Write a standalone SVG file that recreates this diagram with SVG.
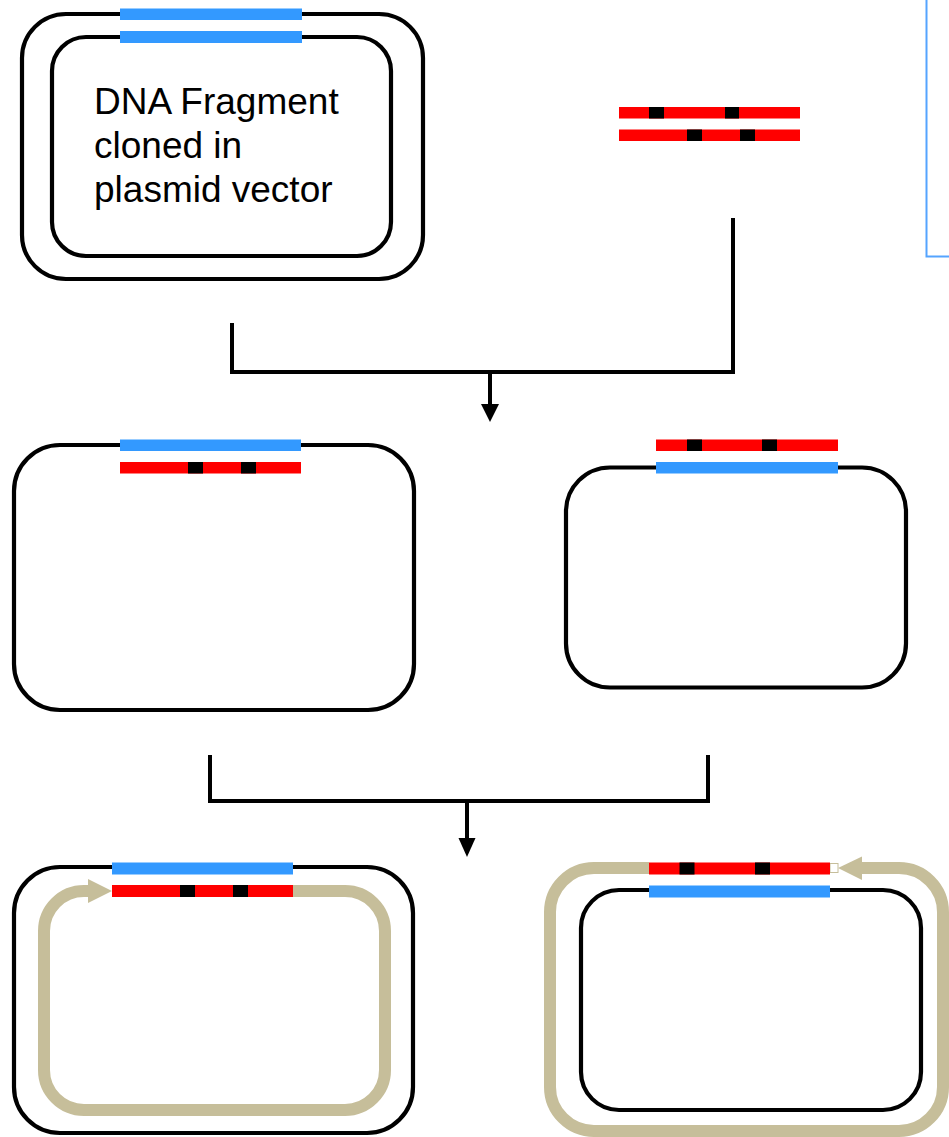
<svg xmlns="http://www.w3.org/2000/svg" width="949" height="1137" viewBox="0 0 949 1137">
  <style>
    .plasmid { fill: none; stroke: #000; stroke-width: 4.2; }
    .strand-tan { fill: none; stroke: #c6be9a; stroke-width: 12; }
    .head-tan { fill: #c6be9a; }
    .blue { fill: #3399ff; }
    .red { fill: #ff0000; }
    .site { fill: #000; }
    .wire { fill: none; stroke: #000; stroke-width: 4; stroke-linecap: square; }
    .head { fill: #000; }
    .label { font-family: "Liberation Sans", Arial, sans-serif; font-size: 37px; fill: #000; }
  </style>
  <rect width="949" height="1137" fill="#fff"/>

  <!-- plasmid carrying the cloned fragment -->
  <g id="cloned-plasmid">
    <rect class="plasmid" x="22" y="14" width="401" height="265" rx="44"/>
    <rect class="plasmid" x="52" y="37" width="339" height="219" rx="34"/>
    <rect class="blue" x="120" y="8.5" width="182" height="11.5"/>
    <rect class="blue" x="120" y="31" width="182" height="12"/>
    <text class="label" x="94" y="114">DNA Fragment</text>
    <text class="label" x="94" y="158">cloned in</text>
    <text class="label" x="94" y="202">plasmid vector</text>
  </g>

  <!-- mutagenic primer pair -->
  <g id="primers">
    <rect class="red" x="619" y="107" width="181" height="11.5"/>
    <rect class="site" x="649" y="107" width="15" height="11.5"/>
    <rect class="site" x="725" y="107" width="14" height="11.5"/>
    <rect class="red" x="619" y="129.5" width="181" height="11.5"/>
    <rect class="site" x="687" y="129.5" width="15" height="11.5"/>
    <rect class="site" x="740" y="129.5" width="15" height="11.5"/>
  </g>

  <!-- side panel frame -->
  <g id="panel">
    <rect x="926.5" y="-5" width="60" height="261.5" fill="none" stroke="#55a4ff" stroke-width="2"/>
  </g>

  <!-- annealed: primer on lower strand -->
  <g id="annealed-left">
    <rect class="plasmid" x="14" y="445" width="400" height="265" rx="46"/>
    <rect class="blue" x="120" y="439.5" width="181" height="11.5"/>
    <rect class="red" x="120" y="462" width="181" height="11.5"/>
    <rect class="site" x="188" y="462" width="15" height="11.5"/>
    <rect class="site" x="241" y="462" width="15" height="11.5"/>
  </g>

  <!-- annealed: primer on upper strand -->
  <g id="annealed-right">
    <rect class="plasmid" x="566" y="467.5" width="340" height="220" rx="44"/>
    <rect class="red" x="656" y="439.5" width="182" height="11.5"/>
    <rect class="site" x="687" y="439.5" width="15" height="11.5"/>
    <rect class="site" x="762" y="439.5" width="15" height="11.5"/>
    <rect class="blue" x="656" y="462" width="182" height="11.5"/>
  </g>

  <!-- extended: new strand inside -->
  <g id="extended-left">
    <rect class="plasmid" x="14" y="867" width="399" height="266" rx="46"/>
    <path class="strand-tan" d="M293 891 H345 A40 40 0 0 1 385 931 V1070 A40 40 0 0 1 345 1110 H84 A40 40 0 0 1 44 1070 V931 A40 40 0 0 1 84 891 H90"/>
    <polygon class="head-tan" points="88,879 112,891 88,903"/>
    <rect class="blue" x="112" y="862.5" width="181" height="12"/>
    <rect class="red" x="112" y="885" width="181" height="12"/>
    <rect class="site" x="180" y="885" width="15" height="12"/>
    <rect class="site" x="233" y="885" width="15" height="12"/>
  </g>

  <!-- extended: new strand outside -->
  <g id="extended-right">
    <path class="strand-tan" d="M860 868 H899 A44 44 0 0 1 943 912 V1087 A44 44 0 0 1 899 1131 H594 A44 44 0 0 1 550 1087 V912 A44 44 0 0 1 594 868 H649"/>
    <rect x="830" y="863.5" width="8" height="9" fill="#fff" stroke="#c6be9a" stroke-width="1"/>
    <polygon class="head-tan" points="862,856.5 838,868 862,880"/>
    <rect class="plasmid" x="581" y="890" width="340" height="220" rx="38"/>
    <rect class="red" x="649" y="862.5" width="181" height="12"/>
    <rect class="site" x="679.5" y="862.5" width="15" height="12"/>
    <rect class="site" x="755" y="862.5" width="15" height="12"/>
    <rect class="blue" x="649" y="885.5" width="181" height="12"/>
  </g>

  <!-- step connectors -->
  <g id="connectors">
    <path class="wire" d="M232 325 V372 H733 V220"/>
    <path class="wire" d="M490 372 V404"/>
    <polygon class="head" points="481,404 499,404 490,422"/>
    <path class="wire" d="M210 757 V801 H708 V757"/>
    <path class="wire" d="M467 801 V838"/>
    <polygon class="head" points="458.5,838 475.5,838 467,857"/>
  </g>
</svg>
